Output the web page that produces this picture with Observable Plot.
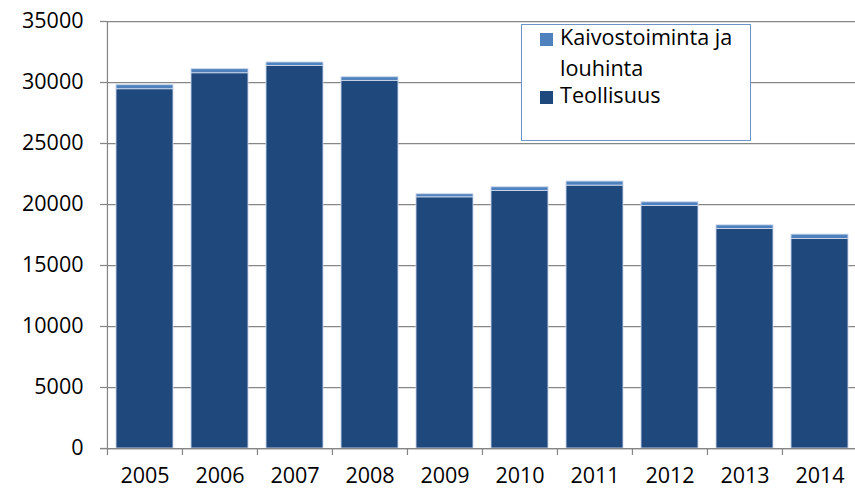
<!DOCTYPE html>
<html>
<head>
<meta charset="utf-8">
<script src="https://cdn.jsdelivr.net/npm/d3@7"></script>
<script src="https://cdn.jsdelivr.net/npm/@observablehq/plot@0.6"></script>
<style>
  html, body { margin: 0; padding: 0; background: #fff; overflow: hidden; }
  #wrap { position: relative; width: 855px; height: 489px; font-family: "Open Sans", Lato, sans-serif; }
  #legend { position: absolute; left: 521px; top: 24px; width: 228px; height: 115px;
            border: 1.3px solid #7094c9; background: #fff; }
  .sw { position: absolute; width: 13px; height: 13px; }
  .lt { position: absolute; font-size: 21.6px; color: #000; white-space: nowrap; line-height: 1; }
  svg text { font-family: "Open Sans", Lato, sans-serif; }
</style>
</head>
<body>
<div id="wrap"></div>
<script>
const years = ["2005","2006","2007","2008","2009","2010","2011","2012","2013","2014"];
const teollisuus = [29450, 30760, 31360, 30130, 20590, 21110, 21550, 19880, 17990, 17170];
const kaivostoiminta = [330, 330, 280, 300, 250, 300, 330, 300, 300, 360];
const seriesNames = ["Kaivostoiminta ja louhinta", "Teollisuus"];
const seriesColors = ["#4f81bd", "#1f497d"];
const yTicks = [0, 5000, 10000, 15000, 20000, 25000, 30000, 35000];

const rows = [];
years.forEach((y, i) => {
  rows.push({year: y, series: seriesNames[1], value: teollisuus[i]});
  rows.push({year: y, series: seriesNames[0], value: kaivostoiminta[i]});
});

const W = 855, H = 489, mL = 107, mR = -3;
const step = (W - mR - mL) / years.length;

const chart = Plot.plot({
  width: W, height: H,
  marginLeft: mL, marginRight: mR, marginTop: 21, marginBottom: 41,
  style: {fontFamily: "'Open Sans', Lato, sans-serif", fontSize: "21.5px", color: "#000", background: "#fff"},
  x: {domain: years, paddingInner: 0.235, paddingOuter: 0.1175, label: null},
  y: {domain: [0, 35000], ticks: yTicks, label: null},
  color: {domain: seriesNames, range: seriesColors},
  marks: [
    Plot.gridY(yTicks, {stroke: "#868686", strokeOpacity: 1, strokeWidth: 1.25}),
    Plot.barY(rows, Plot.stackY({order: [seriesNames[1], seriesNames[0]]}, {
      x: "year", y: "value", fill: "series", stroke: "#c9d6ea", strokeWidth: 0.9
    })),
    Plot.ruleY([0], {stroke: "#868686", strokeWidth: 1.25, insetLeft: -7}),
    Plot.ruleX(years, {x: d => d, y1: 0, y2: 0, dx: -step / 2, insetBottom: -7, stroke: "#868686", strokeWidth: 1.25}),
    Plot.ruleX([years[0]], {x: d => d, y1: 0, y2: 35000, dx: -step / 2, stroke: "#868686", strokeWidth: 1.25}),
    Plot.axisY(yTicks, {tickSize: 7, tickPadding: 17, stroke: "#868686", strokeWidth: 1.25, tickFormat: d => String(d), fill: "#000", fontSize: 21.5}),
    Plot.axisX({tickSize: 0, tickPadding: 19, fill: "#000", fontSize: 21.5})
  ]
});

const wrap = document.getElementById("wrap");
wrap.appendChild(chart);

const legend = document.createElement("div");
legend.id = "legend";
legend.innerHTML = `
  <div class="sw" style="left:18px; top:8px; background:${seriesColors[0]}"></div>
  <div class="lt" style="left:38px; top:1px;">Kaivostoiminta ja</div>
  <div class="lt" style="left:38px; top:32px;">louhinta</div>
  <div class="sw" style="left:18px; top:66px; background:${seriesColors[1]}"></div>
  <div class="lt" style="left:38px; top:59px;">Teollisuus</div>`;
wrap.appendChild(legend);
</script>
</body>
</html>
